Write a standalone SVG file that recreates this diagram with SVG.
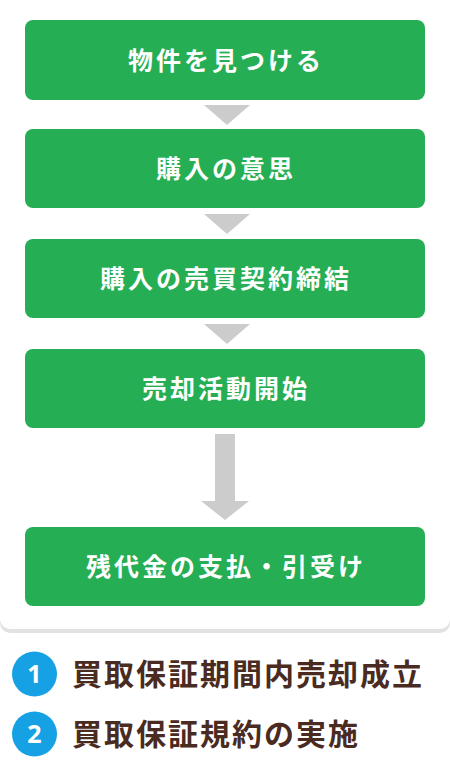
<svg xmlns="http://www.w3.org/2000/svg" width="450" height="780" viewBox="0 0 450 780">
<style>
.box{fill:#26ae55}
.bt{font-family:"Noto Sans CJK JP","Noto Sans",sans-serif;font-weight:700;font-size:25px;fill:#ffffff;text-anchor:middle;letter-spacing:3px}
.arr{fill:#cccccc}
.lt{font-family:"Noto Sans CJK JP","Noto Sans",sans-serif;font-weight:700;font-size:30px;fill:#4a2b21;letter-spacing:2px}
.num{fill:#16a1e4}
.nt{font-family:"Noto Sans","Noto Sans CJK JP",sans-serif;font-weight:700;font-size:25px;fill:#ffffff;text-anchor:middle}
</style>
<rect x="0" y="0" width="450" height="780" fill="#ffffff"/>
<g id="card">
<rect x="0" y="-20" width="450" height="653" rx="10" fill="#e2e2e2"/>
<rect x="0" y="-20" width="450" height="649" rx="10" fill="#ffffff"/>
</g>
<g id="connectors">
<polygon class="arr" points="204,105 250,105 227,125"/>
<polygon class="arr" points="204,214 250,214 227,234"/>
<polygon class="arr" points="204,324 250,324 227,344"/>
<polygon class="arr" points="215,434 235,434 235,501 249,501 225,520 201,501 215,501"/>
</g>
<g id="n1"><rect class="box" x="25" y="20" width="400" height="80" rx="8"/><text class="bt" x="226" y="70">物件を見つける</text></g>
<g id="n2"><rect class="box" x="25" y="129" width="400" height="79" rx="8"/><text class="bt" x="226" y="178">購入の意思</text></g>
<g id="n3"><rect class="box" x="25" y="239" width="400" height="79" rx="8"/><text class="bt" x="226" y="288">購入の売買契約締結</text></g>
<g id="n4"><rect class="box" x="25" y="349" width="400" height="79" rx="8"/><text class="bt" x="226" y="398">売却活動開始</text></g>
<g id="n5"><rect class="box" x="25" y="527" width="400" height="79" rx="8"/><text class="bt" x="226" y="576">残代金の支払・引受け</text></g>
<g id="legend1"><circle class="num" cx="34.5" cy="674" r="22.5"/><text class="nt" x="34.5" y="683">1</text><text class="lt" x="72" y="685">買取保証期間内売却成立</text></g>
<g id="legend2"><circle class="num" cx="34.5" cy="734" r="22.5"/><text class="nt" x="34.5" y="743">2</text><text class="lt" x="72" y="745">買取保証規約の実施</text></g>
</svg>
